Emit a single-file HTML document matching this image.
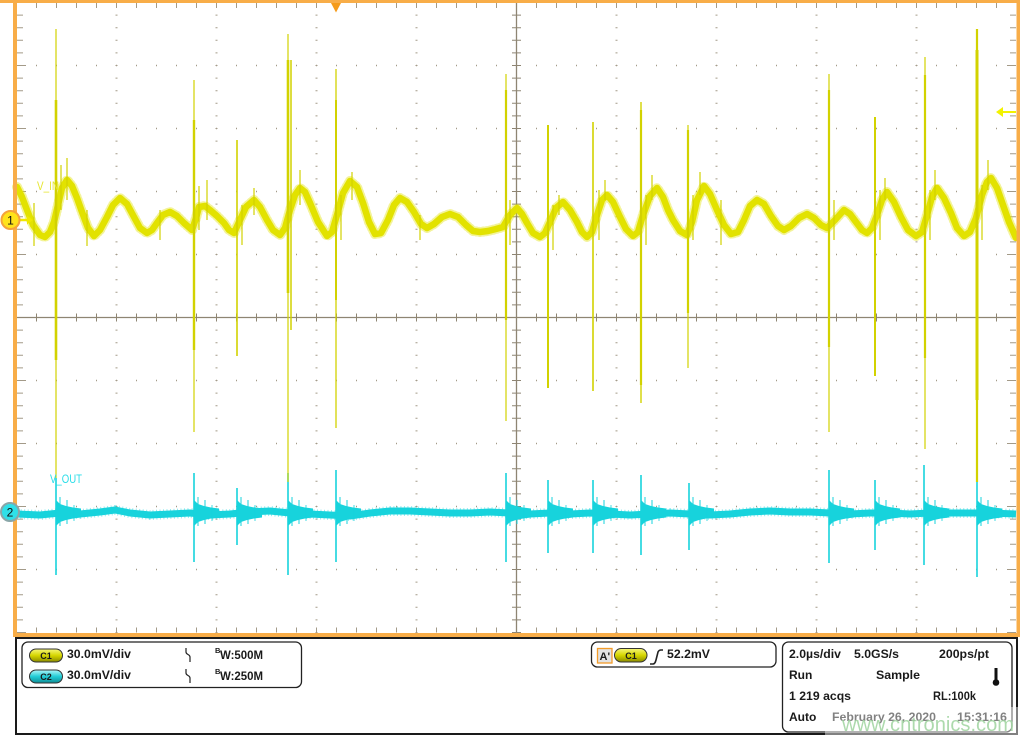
<!DOCTYPE html>
<html><head><meta charset="utf-8"><style>
html,body{margin:0;padding:0;background:#fff;}
svg{display:block;}
text{font-family:"Liberation Sans",Arial,sans-serif;}
</style></head><body>
<svg width="1024" height="736" viewBox="0 0 1024 736" xmlns="http://www.w3.org/2000/svg">
<defs>
<linearGradient id="gy" x1="0" y1="0" x2="0" y2="1"><stop offset="0" stop-color="#f6f67a"/><stop offset="0.5" stop-color="#d6d600"/><stop offset="1" stop-color="#8a8a00"/></linearGradient>
<linearGradient id="gc" x1="0" y1="0" x2="0" y2="1"><stop offset="0" stop-color="#b0f6fa"/><stop offset="0.5" stop-color="#22cdd6"/><stop offset="1" stop-color="#0e8c94"/></linearGradient>
<g id="r" fill="#17d3dc" stroke="#17d3dc">
<polygon stroke="none" points="0,-13 4,-9 10,-7 17,-5.5 25,-4.5 25,4.5 17,5.5 10,7 4,9 0,13"/>
<line x1="4" y1="-16" x2="4" y2="13" stroke-width="1"/>
<line x1="11" y1="-13" x2="11" y2="11" stroke-width="1"/>
<line x1="18" y1="-8" x2="18" y2="8" stroke-width="0.8"/>
</g>
</defs>

<!-- graticule -->
<g stroke="#a39a88" fill="none">
<g stroke-width="2" stroke-dasharray="1 11.6">
<line x1="116.5" y1="2" x2="116.5" y2="633"/><line x1="216.5" y1="2" x2="216.5" y2="633"/>
<line x1="316.5" y1="2" x2="316.5" y2="633"/><line x1="416.5" y1="2" x2="416.5" y2="633"/>
<line x1="616.5" y1="2" x2="616.5" y2="633"/><line x1="716.5" y1="2" x2="716.5" y2="633"/>
<line x1="816.5" y1="2" x2="816.5" y2="633"/><line x1="916.5" y1="2" x2="916.5" y2="633"/>
</g>
<g stroke-width="1.5" stroke-dasharray="1 19">
<line x1="36" y1="65.5" x2="1016" y2="65.5"/><line x1="36" y1="128.5" x2="1016" y2="128.5"/>
<line x1="36" y1="191.5" x2="1016" y2="191.5"/><line x1="36" y1="254.5" x2="1016" y2="254.5"/>
<line x1="36" y1="380.5" x2="1016" y2="380.5"/><line x1="36" y1="443.5" x2="1016" y2="443.5"/>
<line x1="36" y1="506.5" x2="1016" y2="506.5"/><line x1="36" y1="569.5" x2="1016" y2="569.5"/>
</g>
<line x1="36" y1="5.5" x2="1016" y2="5.5" stroke-width="5" stroke-dasharray="1 19"/>
<line x1="36" y1="630" x2="1016" y2="630" stroke-width="5" stroke-dasharray="1 19"/>
<line x1="20" y1="2" x2="20" y2="633" stroke-width="6" stroke-dasharray="1 11.6"/>
<line x1="1013" y1="2" x2="1013" y2="633" stroke-width="6" stroke-dasharray="1 11.6"/>
<line x1="21.5" y1="65" x2="21.5" y2="633" stroke-width="9" stroke-dasharray="1 62"/>
<line x1="1011.5" y1="65" x2="1011.5" y2="633" stroke-width="9" stroke-dasharray="1 62"/>
</g>
<g stroke="#8e8573" fill="none">
<line x1="17" y1="317.5" x2="1016" y2="317.5" stroke-width="1.3"/>
<line x1="516.5" y1="2" x2="516.5" y2="633" stroke-width="1.3"/>
<line x1="16" y1="317.5" x2="1016" y2="317.5" stroke-width="8" stroke-dasharray="1 19"/>
<line x1="516.5" y1="2" x2="516.5" y2="633" stroke-width="9" stroke-dasharray="1 11.6"/>
</g>

<!-- cyan trace -->
<g fill="none" stroke="#17d3dc" stroke-linejoin="round">
<polyline stroke-width="10" stroke-dasharray="1 2.5" opacity="0.45" points="17,514 40,515 60,513 80,514 100,512 115,510 130,513 150,515 170,514 190,513 210,515 230,514 250,512 270,511 290,513 310,514 330,515 350,516 370,513 390,511 410,511 430,512 450,513 470,513 490,512 510,513 530,514 550,513 570,514 590,513 610,514 630,515 650,514 670,513 690,514 710,515 730,514 750,512 770,511 790,512 810,512 830,513 850,514 870,513 890,513 910,514 930,513 950,513 970,513 990,513 1016,514"/>
<polyline stroke-width="7" points="17,514 40,515 60,513 80,514 100,512 115,510 130,513 150,515 170,514 190,513 210,515 230,514 250,512 270,511 290,513 310,514 330,515 350,516 370,513 390,511 410,511 430,512 450,513 470,513 490,512 510,513 530,514 550,513 570,514 590,513 610,514 630,515 650,514 670,513 690,514 710,515 730,514 750,512 770,511 790,512 810,512 830,513 850,514 870,513 890,513 910,514 930,513 950,513 970,513 990,513 1016,514"/>
<g stroke-width="1.6">
<line x1="56" y1="478" x2="56" y2="575"/><line x1="194" y1="473" x2="194" y2="562"/>
<line x1="237" y1="488" x2="237" y2="545"/><line x1="288" y1="473" x2="288" y2="575"/>
<line x1="336" y1="470" x2="336" y2="562"/><line x1="506" y1="473" x2="506" y2="562"/>
<line x1="548" y1="480" x2="548" y2="553"/><line x1="593" y1="480" x2="593" y2="553"/>
<line x1="641" y1="475" x2="641" y2="555"/><line x1="689" y1="483" x2="689" y2="550"/>
<line x1="829" y1="470" x2="829" y2="563"/><line x1="875" y1="480" x2="875" y2="550"/>
<line x1="924" y1="465" x2="924" y2="565"/><line x1="977" y1="468" x2="977" y2="577"/>
</g>
</g>
<use href="#r" x="56" y="513"/><use href="#r" x="194" y="513"/><use href="#r" x="237" y="513"/>
<use href="#r" x="288" y="513"/><use href="#r" x="336" y="513"/><use href="#r" x="506" y="513"/>
<use href="#r" x="548" y="513"/><use href="#r" x="593" y="513"/><use href="#r" x="641" y="513"/>
<use href="#r" x="689" y="513"/><use href="#r" x="829" y="513"/><use href="#r" x="875" y="513"/>
<use href="#r" x="924" y="513"/><use href="#r" x="977" y="513"/>

<!-- yellow trace -->
<g fill="none" stroke="#e2e200" stroke-linejoin="round" stroke-linecap="round">
<polyline stroke-width="10" stroke-dasharray="1 2.5" opacity="0.4" points="17,187 22,197 27,210 33,225 40,235 45,237 50,232 54,222 58,205 62,188 67,180 72,186 77,198 82,212 88,228 94,236 100,230 107,217 113,205 120,198 127,204 134,217 140,228 147,233 152,230 157,223 163,215 170,212 177,216 184,223 192,230 196,218 199,207 205,206 210,210 217,216 224,223 229,230 234,233 240,220 246,207 254,200 260,207 267,220 273,230 280,235 285,228 290,210 295,195 300,188 305,192 310,203 318,222 327,236 332,232 337,215 343,193 350,181 357,187 363,203 369,222 375,234 381,233 388,220 394,205 400,198 407,202 414,212 421,224 427,228 434,224 442,217 450,214 458,217 466,225 473,231 480,232 488,231 496,229 503,227 510,215 517,208 522,214 527,223 533,233 540,237 545,233 550,222 556,208 563,202 570,210 577,222 582,232 587,237 592,232 597,215 602,200 607,195 613,202 620,217 626,229 633,236 638,232 643,215 650,196 657,188 663,197 668,210 673,220 680,231 687,235 692,222 697,200 704,186 710,194 717,210 724,225 731,234 738,232 744,220 750,206 757,200 764,204 771,216 778,226 784,230 791,226 799,218 807,214 814,218 821,225 827,228 835,220 844,210 850,214 856,222 862,230 867,233 872,228 877,215 882,200 887,192 894,202 901,217 908,230 916,236 922,232 927,215 932,197 937,188 944,198 951,213 957,228 964,236 970,232 976,218 982,195 987,182 991,178 997,188 1003,205 1009,222 1016,238"/>
<polyline stroke-width="6.5" points="17,187 22,197 27,210 33,225 40,235 45,237 50,232 54,222 58,205 62,188 67,180 72,186 77,198 82,212 88,228 94,236 100,230 107,217 113,205 120,198 127,204 134,217 140,228 147,233 152,230 157,223 163,215 170,212 177,216 184,223 192,230 196,218 199,207 205,206 210,210 217,216 224,223 229,230 234,233 240,220 246,207 254,200 260,207 267,220 273,230 280,235 285,228 290,210 295,195 300,188 305,192 310,203 318,222 327,236 332,232 337,215 343,193 350,181 357,187 363,203 369,222 375,234 381,233 388,220 394,205 400,198 407,202 414,212 421,224 427,228 434,224 442,217 450,214 458,217 466,225 473,231 480,232 488,231 496,229 503,227 510,215 517,208 522,214 527,223 533,233 540,237 545,233 550,222 556,208 563,202 570,210 577,222 582,232 587,237 592,232 597,215 602,200 607,195 613,202 620,217 626,229 633,236 638,232 643,215 650,196 657,188 663,197 668,210 673,220 680,231 687,235 692,222 697,200 704,186 710,194 717,210 724,225 731,234 738,232 744,220 750,206 757,200 764,204 771,216 778,226 784,230 791,226 799,218 807,214 814,218 821,225 827,228 835,220 844,210 850,214 856,222 862,230 867,233 872,228 877,215 882,200 887,192 894,202 901,217 908,230 916,236 922,232 927,215 932,197 937,188 944,198 951,213 957,228 964,236 970,232 976,218 982,195 987,182 991,178 997,188 1003,205 1009,222 1016,238"/>
</g>
<!-- yellow spikes -->
<g stroke="#d2d200" fill="none">
<line x1="56" y1="29" x2="56" y2="478" stroke-width="1.2"/><line x1="56" y1="100" x2="56" y2="360" stroke-width="2.6"/>
<line x1="194" y1="80" x2="194" y2="432" stroke-width="1.2"/><line x1="194" y1="120" x2="194" y2="350" stroke-width="2.4"/>
<line x1="237" y1="140" x2="237" y2="356" stroke-width="1.6"/>
<line x1="288" y1="34" x2="288" y2="482" stroke-width="1.2"/><line x1="288" y1="60" x2="288" y2="293" stroke-width="2.6"/>
<line x1="291" y1="60" x2="291" y2="330" stroke-width="1.5"/>
<line x1="336" y1="69" x2="336" y2="428" stroke-width="1.3"/><line x1="336" y1="100" x2="336" y2="300" stroke-width="2"/>
<line x1="506" y1="74" x2="506" y2="421" stroke-width="1.2"/><line x1="506" y1="90" x2="506" y2="320" stroke-width="2.2"/>
<line x1="548" y1="125" x2="548" y2="388" stroke-width="2"/>
<line x1="593" y1="122" x2="593" y2="391" stroke-width="1.6"/>
<line x1="641" y1="102" x2="641" y2="403" stroke-width="1.4"/><line x1="641" y1="110" x2="641" y2="385" stroke-width="2.2"/>
<line x1="688" y1="125" x2="688" y2="368" stroke-width="1.2"/><line x1="688" y1="130" x2="688" y2="313" stroke-width="2.2"/>
<line x1="829" y1="74" x2="829" y2="432" stroke-width="1.2"/><line x1="829" y1="90" x2="829" y2="347" stroke-width="2.2"/>
<line x1="875" y1="117" x2="875" y2="376" stroke-width="2"/>
<line x1="925" y1="57" x2="925" y2="449" stroke-width="1.2"/><line x1="925" y1="75" x2="925" y2="358" stroke-width="2.2"/>
<line x1="977" y1="29" x2="977" y2="482" stroke-width="2.2"/><line x1="977" y1="50" x2="977" y2="400" stroke-width="3"/>
<g stroke-width="1.2">
<line x1="34" y1="203" x2="34" y2="246"/><line x1="67" y1="158" x2="67" y2="200"/><line x1="61" y1="165" x2="61" y2="210"/>
<line x1="87" y1="210" x2="87" y2="246"/><line x1="199" y1="186" x2="199" y2="230"/><line x1="207" y1="180" x2="207" y2="220"/>
<line x1="254" y1="188" x2="254" y2="215"/><line x1="300" y1="170" x2="300" y2="205"/><line x1="352" y1="172" x2="352" y2="200"/>
<line x1="242" y1="205" x2="242" y2="245"/><line x1="341" y1="195" x2="341" y2="240"/><line x1="510" y1="200" x2="510" y2="245"/>
<line x1="553" y1="205" x2="553" y2="250"/><line x1="559" y1="195" x2="559" y2="215"/><line x1="599" y1="190" x2="599" y2="240"/>
<line x1="605" y1="180" x2="605" y2="200"/><line x1="646" y1="195" x2="646" y2="245"/><line x1="652" y1="175" x2="652" y2="200"/>
<line x1="693" y1="195" x2="693" y2="240"/><line x1="700" y1="172" x2="700" y2="195"/><line x1="834" y1="200" x2="834" y2="240"/>
<line x1="880" y1="190" x2="880" y2="240"/><line x1="885" y1="178" x2="885" y2="200"/><line x1="930" y1="190" x2="930" y2="240"/>
<line x1="935" y1="170" x2="935" y2="200"/><line x1="982" y1="185" x2="982" y2="240"/><line x1="988" y1="160" x2="988" y2="190"/>
<line x1="721" y1="200" x2="721" y2="245"/><line x1="420" y1="215" x2="420" y2="240"/><line x1="160" y1="210" x2="160" y2="240"/>
</g>
</g>

<!-- orange frame -->
<g fill="#f8ad48">
<rect x="0" y="0" width="1020" height="3"/>
<rect x="13" y="0" width="4" height="637"/>
<rect x="1016.5" y="0" width="3.5" height="637"/>
<rect x="13" y="633" width="1007" height="4"/>
</g>
<polygon points="331,3 341,3 336,12.5" fill="#f59b1b"/>
<polygon points="996,112 1003,107 1003,117" fill="#f2f200"/>
<line x1="1002" y1="112" x2="1016" y2="112" stroke="#f2f200" stroke-width="2"/>

<!-- channel markers -->
<line x1="19" y1="220" x2="28" y2="220" stroke="#f0e800" stroke-width="2.5"/>
<polygon points="33,220 27,215.5 27,224.5" fill="#f0e800"/>
<circle cx="10.5" cy="220" r="9" fill="#ffe31a" stroke="#f5a33a" stroke-width="2"/>
<text x="10.5" y="224.5" font-size="12" text-anchor="middle" fill="#111">1</text>
<circle cx="10" cy="512" r="9" fill="#2fe0e8" stroke="#8aa6a8" stroke-width="2"/>
<text x="10" y="516.5" font-size="12" text-anchor="middle" fill="#111">2</text>
<text x="37" y="190" font-size="12" fill="#e6e630" textLength="22" lengthAdjust="spacingAndGlyphs">V_IN</text>
<text x="50" y="483" font-size="12" fill="#28dde8" textLength="32" lengthAdjust="spacingAndGlyphs">V_OUT</text>

<!-- bottom panel -->
<rect x="16" y="638" width="1001" height="96" fill="#fff" stroke="#1a1a1a" stroke-width="2"/>
<rect x="22" y="642" width="279.5" height="45.5" rx="6" fill="none" stroke="#222" stroke-width="1.3"/>
<rect x="591.5" y="642" width="184.5" height="25" rx="6" fill="none" stroke="#222" stroke-width="1.3"/>
<rect x="782.5" y="642" width="229.5" height="90" rx="6" fill="none" stroke="#222" stroke-width="1.3"/>

<g font-weight="bold" fill="#1a1a1a" font-size="12">
<rect x="29.5" y="649" width="33" height="13" rx="6.5" fill="url(#gy)" stroke="#333" stroke-width="1"/>
<text x="46" y="659" font-size="9" text-anchor="middle">C1</text>
<rect x="29.5" y="670" width="33" height="13" rx="6.5" fill="url(#gc)" stroke="#333" stroke-width="1"/>
<text x="46" y="680" font-size="9" text-anchor="middle">C2</text>
<text x="67" y="658" textLength="64" lengthAdjust="spacingAndGlyphs">30.0mV/div</text>
<text x="67" y="679" textLength="64" lengthAdjust="spacingAndGlyphs">30.0mV/div</text>
<text x="215" y="653" font-size="7.5">B</text>
<text x="220" y="659" textLength="43" lengthAdjust="spacingAndGlyphs">W:500M</text>
<text x="215" y="674" font-size="7.5">B</text>
<text x="220" y="680" textLength="43" lengthAdjust="spacingAndGlyphs">W:250M</text>

<rect x="597.5" y="648.5" width="14.5" height="14.5" fill="#e2e2e2" stroke="#f39c2a" stroke-width="1.3"/>
<text x="599.5" y="660" font-size="11">A'</text>
<rect x="614.5" y="648.5" width="32.5" height="13.5" rx="6.7" fill="url(#gy)" stroke="#333" stroke-width="1"/>
<text x="631" y="659" font-size="9" text-anchor="middle">C1</text>
<text x="667" y="658" textLength="43" lengthAdjust="spacingAndGlyphs">52.2mV</text>

<text x="789" y="658" textLength="52" lengthAdjust="spacingAndGlyphs">2.0µs/div</text>
<text x="854" y="658" textLength="45" lengthAdjust="spacingAndGlyphs">5.0GS/s</text>
<text x="939" y="658" textLength="50" lengthAdjust="spacingAndGlyphs">200ps/pt</text>
<text x="789" y="679">Run</text>
<text x="876" y="679" textLength="44" lengthAdjust="spacingAndGlyphs">Sample</text>
<text x="789" y="700" textLength="62" lengthAdjust="spacingAndGlyphs">1 219 acqs</text>
<text x="933" y="700" textLength="43" lengthAdjust="spacingAndGlyphs">RL:100k</text>
<text x="789" y="721">Auto</text>
<text x="832" y="721" textLength="104" lengthAdjust="spacingAndGlyphs">February 26, 2020</text>
<text x="957" y="721" textLength="50" lengthAdjust="spacingAndGlyphs">15:31:16</text>
</g>
<g fill="none" stroke="#222" stroke-width="1.2">
<path d="M186,648 v4 c0,3 4,2 4,5 v5"/>
<path d="M186,669 v4 c0,3 4,2 4,5 v5"/>
<path d="M650,664 h3 q2,0 3,-4 l2,-8 q1,-2 3,-2 h2" stroke-width="1.6"/>
</g>
<rect x="994.5" y="668" width="3" height="13" fill="#111"/>
<circle cx="996" cy="682.5" r="3.3" fill="#111"/>

<rect x="825" y="707" width="199" height="29" fill="#fff" opacity="0.45"/>
<text x="842" y="731" font-size="20" fill="#9fd49f" opacity="0.85" textLength="172" lengthAdjust="spacingAndGlyphs">www.cntronics.com</text>
</svg>
</body></html>
